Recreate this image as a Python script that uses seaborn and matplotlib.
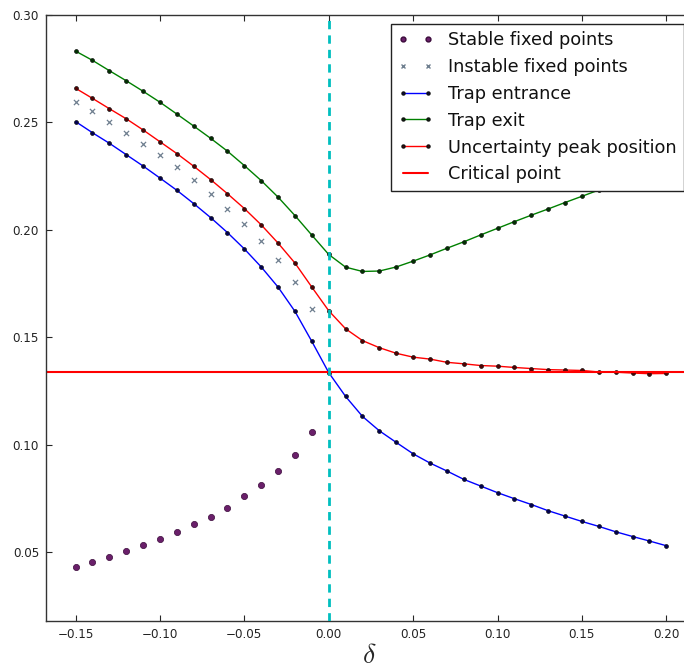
import matplotlib
matplotlib.use("Agg")
import matplotlib.pyplot as plt
import seaborn as sns
import pandas as pd
from matplotlib.lines import Line2D

delta = [-0.15, -0.14, -0.13, -0.12, -0.11, -0.10, -0.09, -0.08, -0.07, -0.06,
         -0.05, -0.04, -0.03, -0.02, -0.01, 0.00, 0.01, 0.02, 0.03, 0.04,
         0.05, 0.06, 0.07, 0.08, 0.09, 0.10, 0.11, 0.12, 0.13, 0.14,
         0.15, 0.16, 0.17, 0.18, 0.19, 0.20]
delta_fixed = delta[:15]

stable = [0.0430, 0.0451, 0.0475, 0.0506, 0.0532, 0.0562, 0.0593, 0.0628, 0.0665,
          0.0707, 0.0759, 0.0812, 0.0875, 0.0953, 0.1058]
instable = [0.2597, 0.2553, 0.2502, 0.2451, 0.2400, 0.2347, 0.2291, 0.2231, 0.2167,
            0.2099, 0.2027, 0.1950, 0.1861, 0.1759, 0.1629]
trap_entrance = [0.2504, 0.2452, 0.2403, 0.2350, 0.2297, 0.2241, 0.2184, 0.2122, 0.2057,
                 0.1987, 0.1911, 0.1827, 0.1733, 0.1620, 0.1480, 0.1335, 0.1224, 0.1131,
                 0.1064, 0.1010, 0.0957, 0.0914, 0.0877, 0.0838, 0.0807, 0.0776, 0.0748,
                 0.0721, 0.0692, 0.0667, 0.0642, 0.0619, 0.0594, 0.0572, 0.0551, 0.0529]
trap_exit = [0.2832, 0.2789, 0.2741, 0.2694, 0.2645, 0.2594, 0.2539, 0.2483, 0.2426,
             0.2366, 0.2299, 0.2229, 0.2152, 0.2066, 0.1975, 0.1885, 0.1826, 0.1806,
             0.1808, 0.1827, 0.1854, 0.1883, 0.1914, 0.1944, 0.1976, 0.2007, 0.2038,
             0.2068, 0.2097, 0.2127, 0.2156, 0.2185, 0.2214, 0.2242, 0.2270, 0.2298]
peak = [0.2659, 0.2612, 0.2564, 0.2517, 0.2465, 0.2410, 0.2355, 0.2296, 0.2234,
        0.2168, 0.2099, 0.2023, 0.1938, 0.1845, 0.1733, 0.1623, 0.1539, 0.1484,
        0.1451, 0.1425, 0.1407, 0.1398, 0.1383, 0.1376, 0.1368, 0.1365, 0.1359,
        0.1354, 0.1349, 0.1347, 0.1345, 0.1338, 0.1337, 0.1333, 0.1330, 0.1331]
critical = 0.1336

xticks = [-0.15, -0.10, -0.05, 0.00, 0.05, 0.10, 0.15, 0.20]
yticks = [0.05, 0.10, 0.15, 0.20, 0.25, 0.30]

sns.set_style("white")
plt.rcParams.update({
    "xtick.direction": "in", "ytick.direction": "in",
    "xtick.top": True, "ytick.right": True,
    "xtick.bottom": True, "ytick.left": True,
    "xtick.major.size": 4, "ytick.major.size": 4,
    "xtick.major.width": 0.8, "ytick.major.width": 0.8,
    "axes.edgecolor": "#333333", "axes.linewidth": 1.0,
    "mathtext.fontset": "cm",
})
plt.rcParams["font.family"] = ["DejaVu Sans"]

fig = plt.figure(figsize=(6.84, 6.68), dpi=100)
W, H = 684, 668
left_px, right_px, top_px, bot_px = 46, 692.5, 15, 620.7
ax = fig.add_axes([left_px / W, 1 - bot_px / H, (right_px - left_px) / W, (bot_px - top_px) / H])

df_fix = pd.DataFrame({"delta": delta_fixed, "stable": stable, "instable": instable})
df = pd.DataFrame({"delta": delta, "entr": trap_entrance, "exit": trap_exit, "peak": peak})

purple = "#6a1f6a"
sns.scatterplot(data=df_fix, x="delta", y="stable", ax=ax, color=purple, s=20,
                edgecolor="#3a0a3a", linewidth=0.5, zorder=3)
sns.scatterplot(data=df_fix, x="delta", y="instable", ax=ax, color="#6f7f8f", marker="x",
                s=14, linewidth=0.9, zorder=3)

line_kw = dict(marker="o", markersize=2.8, markeredgecolor="#111111", markeredgewidth=0.5,
               linewidth=1.0, estimator=None, sort=False)
sns.lineplot(data=df, x="delta", y="entr", ax=ax, color="#0000ff", markerfacecolor="#000055", **line_kw)
sns.lineplot(data=df, x="delta", y="exit", ax=ax, color="#008000", markerfacecolor="#003300", **line_kw)
sns.lineplot(data=df, x="delta", y="peak", ax=ax, color="#ff0000", markerfacecolor="#550000", **line_kw)
ax.axhline(critical, color="#ff0000", linewidth=1.5, zorder=2)
ax.axvline(0.0, color="#00bfbf", linewidth=2.0, linestyle=(0, (3, 2.2)), zorder=4)

ax.set_xlim(-0.1675, 0.2155)
ax.set_ylim(0.018, 0.30)
ax.set_xticks(xticks)
ax.set_yticks(yticks)
ax.set_xticklabels([f"{v:.2f}".replace("-", "\u2212") for v in xticks], fontsize=8.6, color="#222222")
ax.set_yticklabels([f"{v:.2f}" for v in yticks], fontsize=8.6, color="#222222")
ax.tick_params(axis="both", pad=5)
ax.set_xlabel(r"$\delta$", fontsize=20, labelpad=0)
ax.set_ylabel("")

handles = [
    Line2D([], [], linestyle="none", marker="o", markersize=3.5, color=purple, markeredgecolor="#3a0a3a"),
    Line2D([], [], linestyle="none", marker="x", markersize=3.5, color="#6f7f8f"),
    Line2D([], [], color="#0000ff", marker="o", markersize=2.2, markerfacecolor="#000055", markeredgecolor="#111111", lw=1),
    Line2D([], [], color="#008000", marker="o", markersize=2.2, markerfacecolor="#003300", markeredgecolor="#111111", lw=1),
    Line2D([], [], color="#ff0000", marker="o", markersize=2.2, markerfacecolor="#550000", markeredgecolor="#111111", lw=1),
    Line2D([], [], color="#ff0000", lw=1.5),
]
labels = ["Stable fixed points", "Instable fixed points", "Trap entrance", "Trap exit",
          "Uncertainty peak position", "Critical point"]
leg = ax.legend(handles, labels, loc="upper right", fontsize=12.8, numpoints=2,
                fancybox=False, framealpha=1, edgecolor="#222222", labelspacing=0.5,
                handlelength=2.0, handletextpad=0.8, borderpad=0.4, borderaxespad=0.5)
leg.get_frame().set_linewidth(1.0)
for t in leg.get_texts():
    t.set_color("#111111")

fig.savefig("out.png", dpi=100)
